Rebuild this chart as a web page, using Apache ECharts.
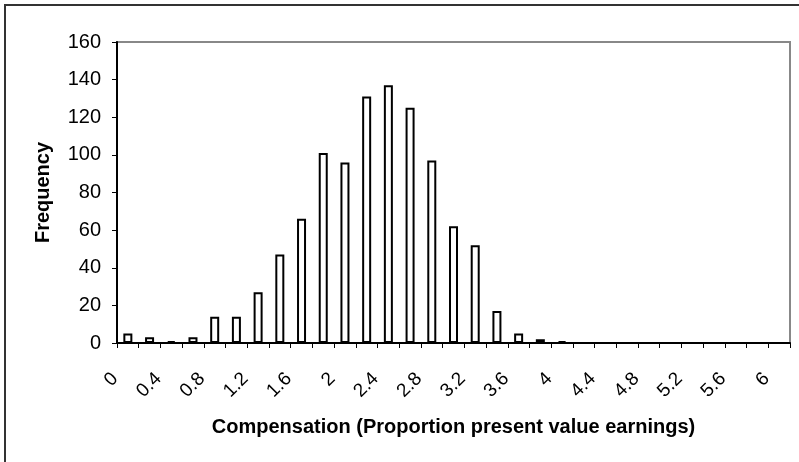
<!DOCTYPE html>
<html>
<head>
<meta charset="utf-8">
<script src="https://cdn.jsdelivr.net/npm/echarts@6/dist/echarts.min.js"></script>
<style>
  html, body { margin: 0; padding: 0; background: #fff; }
  #hist { width: 799px; height: 462px; }
</style>
</head>
<body>
<div id="hist"></div>
<script>
var categories = ['0', '0.2', '0.4', '0.6', '0.8', '1', '1.2', '1.4', '1.6', '1.8', '2', '2.2', '2.4', '2.6', '2.8', '3',
    '3.2', '3.4', '3.6', '3.8', '4', '4.2', '4.4', '4.6', '4.8', '5', '5.2', '5.4', '5.6', '5.8', '6'];
var frequency = [5, 3, 1, 3, 14, 14, 27, 47, 66, 101, 96, 131, 137, 125, 97, 62,
    52, 17, 5, 2, 1, 0, 0, 0, 0, 0, 0, 0, 0, 0, 0];
var yTicks = [0, 20, 40, 60, 80, 100, 120, 140, 160];

var font = 'Liberation Sans, Arial, sans-serif';

var hist = echarts.init(document.getElementById('hist'));
var histOption = {
    animation: false,
    backgroundColor: '#fff',
    graphic: [
        {
            type: 'rect',
            shape: { x: 5, y: 5, width: 820, height: 480 },
            style: { fill: 'none', stroke: '#333', lineWidth: 2 },
            silent: true
        }
    ],
    grid: {
        left: 117,
        right: 9,
        top: 42,
        bottom: 119,
        show: true,
        borderColor: '#888',
        borderWidth: 2,
        backgroundColor: 'transparent'
    },
    xAxis: {
        type: 'category',
        data: categories,
        name: 'Compensation (Proportion present value earnings)',
        nameLocation: 'middle',
        nameGap: 74,
        nameTextStyle: {
            fontFamily: font,
            fontSize: 20,
            fontWeight: 'bold',
            color: '#000'
        },
        axisLine: { lineStyle: { color: '#000', width: 2 } },
        axisTick: {
            show: true,
            alignWithLabel: false,
            interval: 0,
            length: 5,
            lineStyle: { color: '#000', width: 1 }
        },
        axisLabel: {
            interval: 1,
            rotate: 45,
            margin: 20,
            padding: [0, 18, 0, 0],
            fontFamily: font,
            fontSize: 19,
            color: '#000'
        }
    },
    yAxis: {
        type: 'value',
        min: yTicks[0],
        max: yTicks[yTicks.length - 1],
        interval: 20,
        name: 'Frequency',
        nameLocation: 'middle',
        nameGap: 64,
        nameRotate: 90,
        nameTextStyle: {
            fontFamily: font,
            fontSize: 20,
            fontWeight: 'bold',
            color: '#000'
        },
        axisLine: { show: true, lineStyle: { color: '#000', width: 2 } },
        axisTick: { show: true, length: 5, lineStyle: { color: '#000', width: 1 } },
        splitLine: { show: false },
        axisLabel: {
            margin: 16,
            fontFamily: font,
            fontSize: 20,
            color: '#000'
        }
    },
    series: [
        {
            name: 'Frequency',
            type: 'bar',
            data: frequency,
            barWidth: 9,
            itemStyle: {
                color: '#fff',
                borderColor: '#000',
                borderWidth: 2
            }
        }
    ]
};
hist.setOption(histOption);
</script>
</body>
</html>
